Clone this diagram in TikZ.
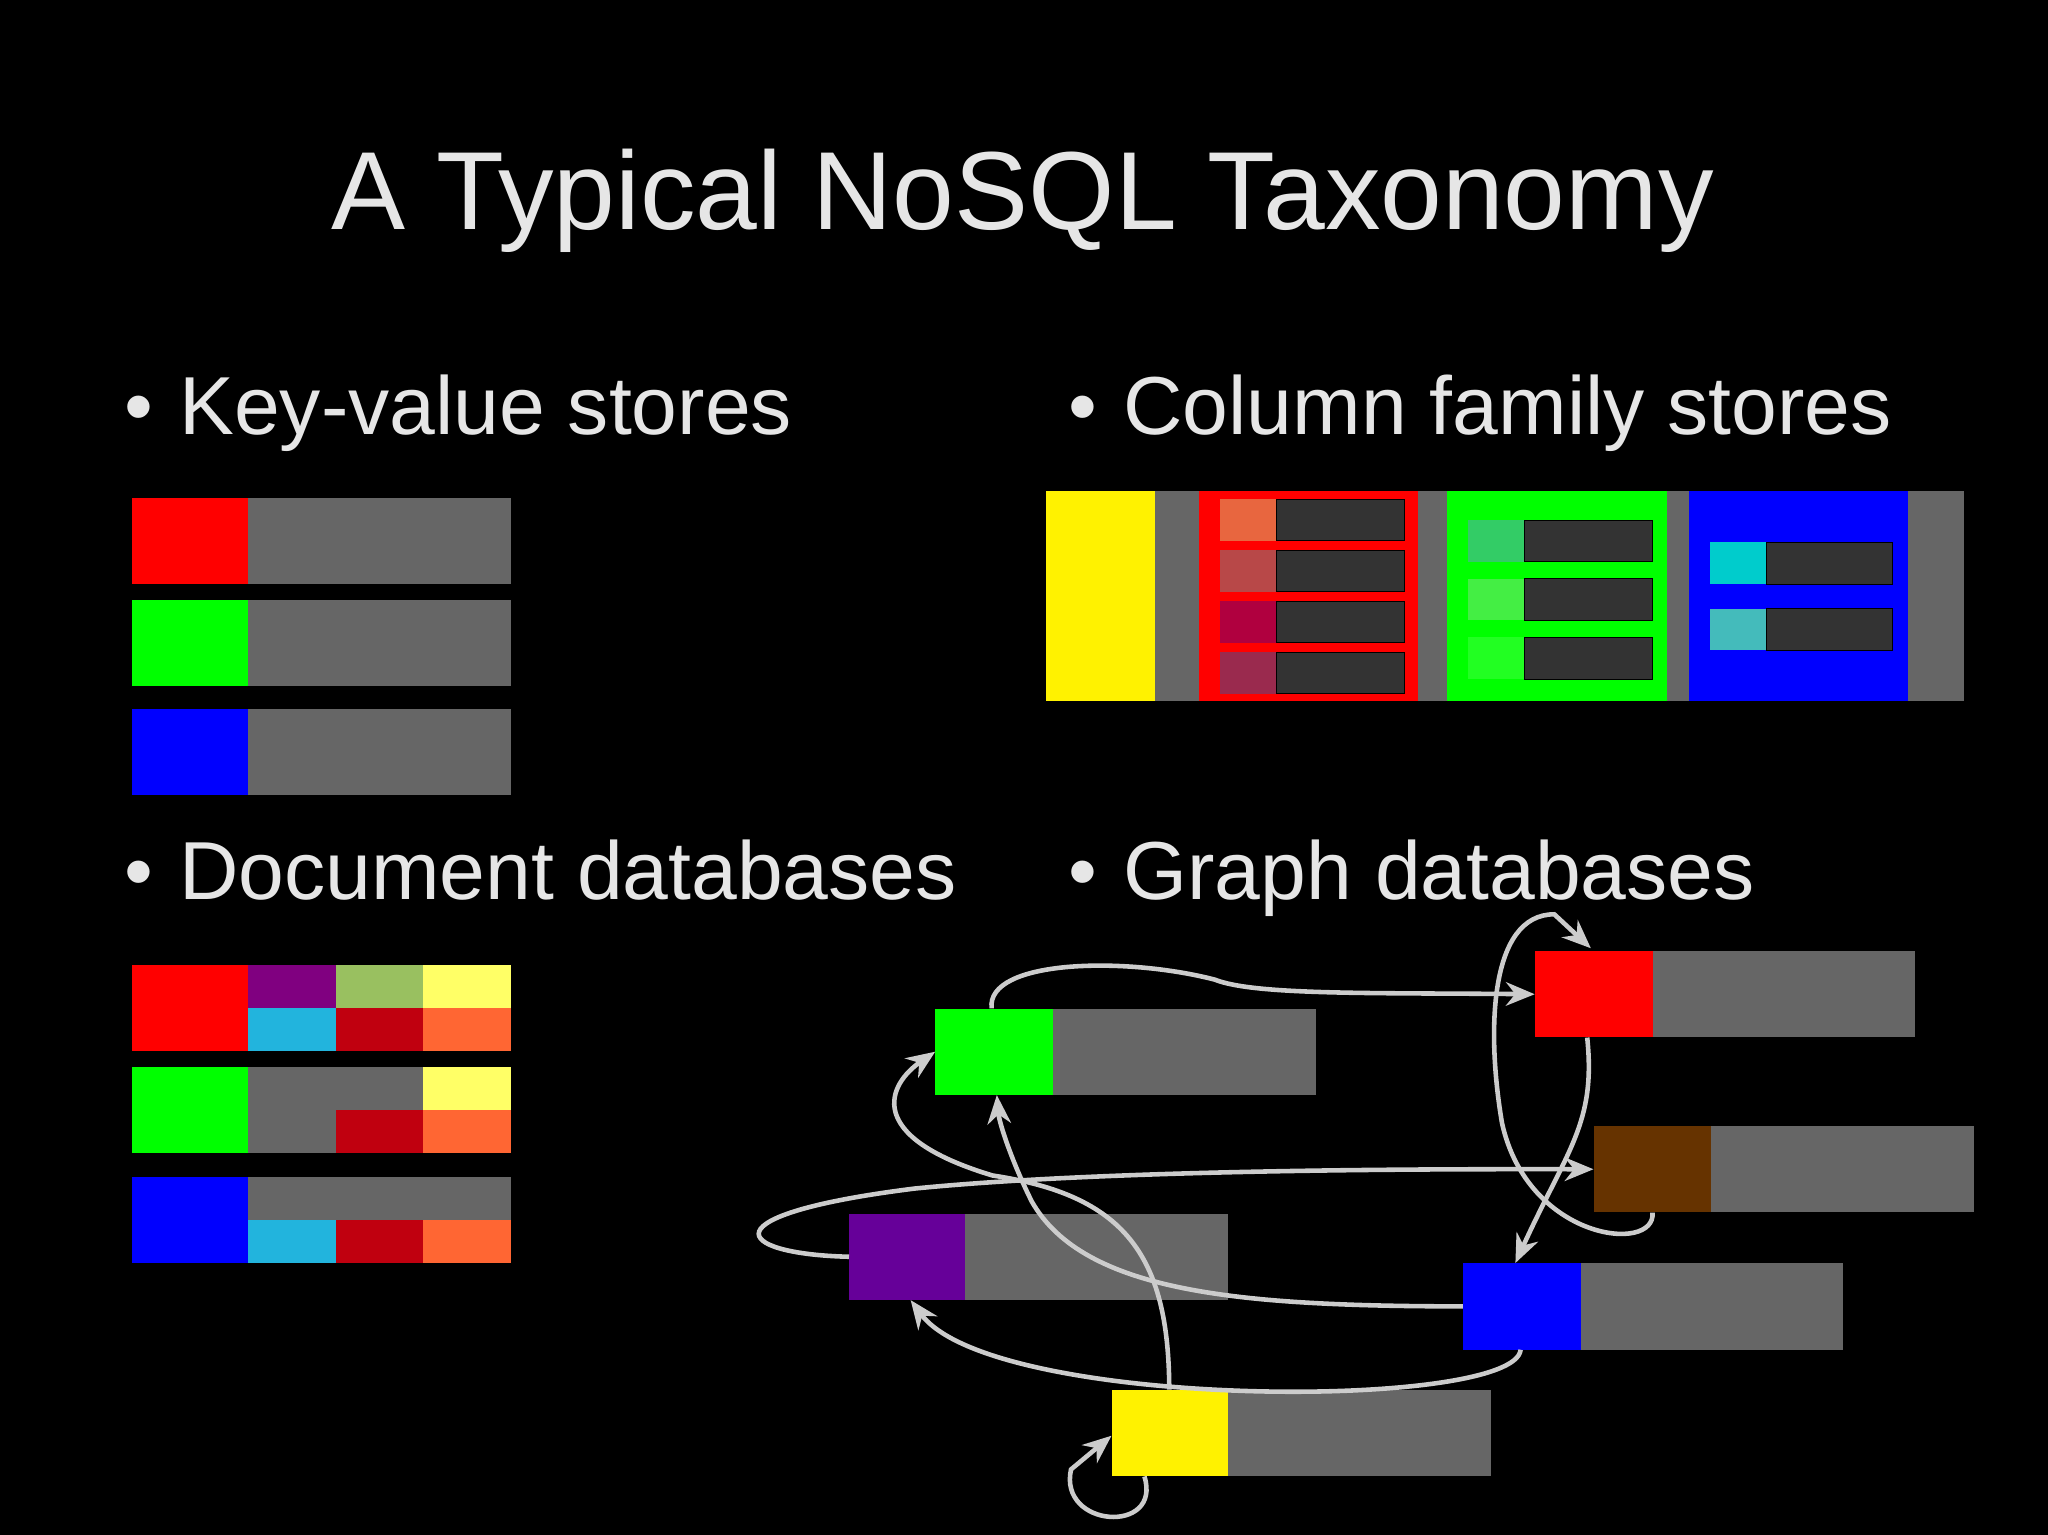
\documentclass[tikz,border=0pt]{standalone}
\usepackage{fontspec}
\setmainfont{Liberation Sans}
\usetikzlibrary{arrows.meta}
\definecolor{txt}{HTML}{E6E6E6}
\definecolor{bar}{HTML}{666666}
\definecolor{drk}{HTML}{333333}
\definecolor{arr}{HTML}{CCCCCC}
\definecolor{brn}{HTML}{663300}
\definecolor{vio}{HTML}{660099}
\begin{document}
\begin{tikzpicture}[x=1pt,y=-1pt,
  sq/.style={draw=none,inner sep=0,minimum width=90,minimum height=66,anchor=north west},
  gb/.style={fill=bar,draw=none,inner sep=0,minimum width=201,minimum height=66,anchor=north west},
  edge/.style={draw=arr,line width=3.5,-{Stealth[length=22,width=18]}},
  lbl/.style={text=txt,anchor=base west,inner sep=0}]
\useasboundingbox[fill=black] (0,0) rectangle (1568,1175);
\node[text=txt,inner sep=0,anchor=base] (title) at (783,176) {\fontsize{85}{90}\selectfont A Typical NoSQL Taxonomy};
\node[lbl] (b1) at (95,333) {\fontsize{63}{70}\selectfont •\hspace{20pt}Key-value stores};
\node[lbl] (b2) at (818,333) {\fontsize{63}{70}\selectfont •\hspace{20pt}Column family stores};
\node[lbl] (b3) at (95,689) {\fontsize{63}{70}\selectfont •\hspace{20pt}Document databases};
\node[lbl] (b4) at (818,689) {\fontsize{63}{70}\selectfont •\hspace{20pt}Graph databases};
% key-value
\foreach \c/\y in {red/381,green/459,blue/543}{
  \fill[\c] (101,\y) rectangle (190,\y+66);
  \fill[bar] (190,\y) rectangle (391,\y+66);}
% column family
\fill[yellow] (801,376) rectangle (884,537);
\fill[bar] (884,376) rectangle (1504,537);
\fill[red] (918,376) rectangle (1086,537);
\fill[green] (1108,376) rectangle (1276,537);
\fill[blue] (1293,376) rectangle (1461,537);
\foreach \c/\y in {E8663F/382,B84848/421,B0003F/460,9A2A4E/499}{
  \definecolor{cc}{HTML}{\c}
  \fill[cc] (934,\y) rectangle (977,\y+32);
  \draw[fill=drk,draw=black] (977,\y) rectangle (1075,\y+32);}
\foreach \c/\y in {33CC66/398,44EE44/443,22FF22/488}{
  \definecolor{cc}{HTML}{\c}
  \fill[cc] (1124,\y) rectangle (1167,\y+32);
  \draw[fill=drk,draw=black] (1167,\y) rectangle (1265,\y+32);}
\foreach \c/\y in {00CCCC/415,44BBBB/466}{
  \definecolor{cc}{HTML}{\c}
  \fill[cc] (1309,\y) rectangle (1352,\y+32);
  \draw[fill=drk,draw=black] (1352,\y) rectangle (1449,\y+32);}
% document
\definecolor{pu}{HTML}{800080}\definecolor{ol}{HTML}{99C060}\definecolor{ye}{HTML}{FFFF66}
\definecolor{cy}{HTML}{22B4DD}\definecolor{dr}{HTML}{C0000F}\definecolor{or}{HTML}{FF6633}
\fill[red] (101,739) rectangle (190,805);
\fill[pu] (190,739) rectangle (257,772); \fill[ol] (257,739) rectangle (324,772); \fill[ye] (324,739) rectangle (391,772);
\fill[cy] (190,772) rectangle (257,805); \fill[dr] (257,772) rectangle (324,805); \fill[or] (324,772) rectangle (391,805);
\fill[green] (101,817) rectangle (190,883);
\fill[bar] (190,817) rectangle (324,850); \fill[ye] (324,817) rectangle (391,850);
\fill[bar] (190,850) rectangle (257,883); \fill[dr] (257,850) rectangle (324,883); \fill[or] (324,850) rectangle (391,883);
\fill[blue] (101,901) rectangle (190,967);
\fill[bar] (190,901) rectangle (391,934);
\fill[cy] (190,934) rectangle (257,967); \fill[dr] (257,934) rectangle (324,967); \fill[or] (324,934) rectangle (391,967);
% graph
\node[sq,fill=green] (g) at (716,772) {}; \node[gb] (gg) at (806,772) {};
\node[sq,fill=red] (r) at (1175,728) {}; \node[gb] (rg) at (1265,728) {};
\node[sq,fill=brn] (br) at (1220,862) {}; \node[gb] (brg) at (1310,862) {};
\node[sq,fill=vio] (p) at (650,929) {}; \node[gb] (pg) at (739,929) {};
\node[sq,fill=blue] (bl) at (1120,967) {}; \node[gb] (blg) at (1210,967) {};
\node[sq,fill=yellow] (y) at (851,1064) {}; \node[gb] (yg) at (940,1064) {};
\coordinate (rN) at (1218,726);
\draw[edge] ([xshift=-2]g.north) .. controls (755,735) and (860,732) .. (930,750) .. controls (960,762) and (1050,760) .. (r.west);
\draw[edge] ([xshift=-5]r.south) .. controls (1222,860) and (1200,880) .. ([xshift=-5]bl.north);
\draw[edge] ([xshift=0]br.south) .. controls (1268,960) and (1170,950) .. (1150,860) .. controls (1138,790) and (1140,700) .. (1190,700) -- (rN);
\draw[edge] (p.west) .. controls (560,960) and (540,930) .. (700,910) .. controls (850,895) and (1100,895) .. (br.west);
\draw[edge] (bl.west) .. controls (950,1000) and (830,990) .. (790,920) .. controls (775,890) and (765,860) .. ([xshift=2]g.south);
\draw[edge] ([xshift=-1]bl.south) .. controls (1160,1080) and (760,1080) .. ([xshift=2]p.south);
\draw[edge] ([xshift=-1]y.north) .. controls (895,960) and (860,915) .. (760,900) .. controls (660,870) and (680,830) .. (g.west);
\draw[edge] ([xshift=-20]y.south) .. controls (890,1175) and (810,1170) .. (820,1125) -- ([yshift=-2]y.west);
\end{tikzpicture}
\end{document}
